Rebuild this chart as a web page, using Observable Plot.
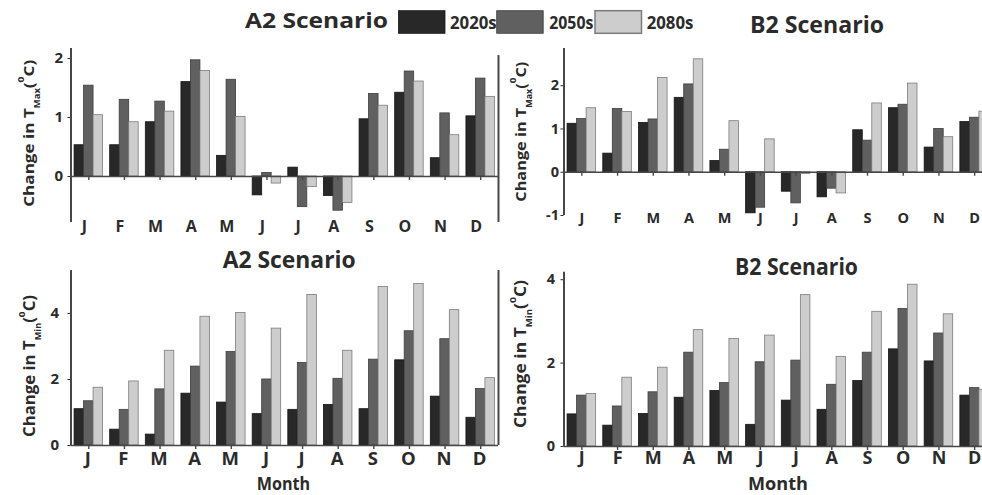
<!DOCTYPE html>
<html><head><meta charset="utf-8">
<script src="https://cdn.jsdelivr.net/npm/d3@7"></script>
<script src="https://cdn.jsdelivr.net/npm/@observablehq/plot@0.6"></script>
<style>
html,body{margin:0;padding:0;background:#fff;overflow:hidden;}
#root{position:relative;width:982px;height:495px;overflow:hidden;font-family:"Open Sans",sans-serif;}
#root > div{position:absolute;}
</style></head><body><div id="root"></div>
<script>
const months = ["Jan","Feb","Mar","Apr","May","Jun","Jul","Aug","Sep","Oct","Nov","Dec"];
const monthLabels = ["J","F","M","A","M","J","J","A","S","O","N","D"];
const periods = ["2020s","2050s","2080s"];

const a2Tmax2020 = [0.53,0.53,0.92,1.60,0.35,-0.32,0.15,-0.33,0.97,1.42,0.31,1.02];
const a2Tmax2050 = [1.54,1.30,1.27,1.97,1.64,0.06,-0.52,-0.58,1.40,1.78,1.07,1.66];
const a2Tmax2080 = [1.04,0.92,1.10,1.79,1.01,-0.12,-0.18,-0.45,1.20,1.61,0.70,1.35];

const b2Tmax2020 = [1.12,0.43,1.14,1.72,0.26,-0.95,-0.45,-0.58,0.97,1.48,0.57,1.16];
const b2Tmax2050 = [1.23,1.46,1.22,2.03,0.52,-0.82,-0.72,-0.38,0.73,1.56,1.00,1.26];
const b2Tmax2080 = [1.48,1.39,2.18,2.61,1.18,0.76,-0.04,-0.49,1.59,2.05,0.81,1.40];

const a2Tmin2020 = [1.10,0.48,0.33,1.57,1.30,0.95,1.08,1.23,1.10,2.58,1.48,0.84];
const a2Tmin2050 = [1.34,1.08,1.70,2.39,2.83,2.00,2.50,2.02,2.60,3.46,3.22,1.71];
const a2Tmin2080 = [1.75,1.94,2.87,3.90,4.01,3.54,4.56,2.87,4.80,4.89,4.10,2.04];

const b2Tmin2020 = [0.77,0.50,0.78,1.17,1.33,0.52,1.10,0.88,1.57,2.33,2.04,1.22];
const b2Tmin2050 = [1.22,0.96,1.30,2.25,1.52,2.02,2.06,1.48,2.25,3.30,2.71,1.40];
const b2Tmin2080 = [1.26,1.65,1.89,2.79,2.58,2.66,3.63,2.15,3.23,3.88,3.17,1.36];

const tmaxA2Ticks = [0, 1, 2];
const tmaxB2Ticks = [-1, 0, 1, 2];
const tminA2Ticks = [0, 2, 4];
const tminB2Ticks = [0, 2, 4];

const fills = ["#282828", "#606060", "#cdcdcd"];
const strokes = ["#151515", "#3e3e3e", "#7c7c7c"];
const ink = "#2b2b2b";
const axisInk = "#474747";
const FONT = "'Open Sans', sans-serif";

const root = document.getElementById("root");

function panel(cfg) {
  const {left, top, width, height, mL, mR, mT, mB, yDomain, yTicks, series,
         labelDy, labelDx, labelSize, tickSize, tickPad, rightLineTop, showRight} = cfg;
  const data = [];
  periods.forEach((p, k) => series[k].forEach((v, i) => data.push({month: months[i], label: monthLabels[i], period: p, value: v})));
  const innerW = width - mL - mR;
  const step = innerW / 12;
  const barW = step * 0.8 / 3;
  const innerH = height - mT - mB;
  const ppu = innerH / (yDomain[1] - yDomain[0]);
  const marks = [];
  periods.forEach((p, k) => marks.push(Plot.barY(data.filter(d => d.period === p), {
    x: "month", y: "value", fill: fills[k], stroke: strokes[k], strokeWidth: 0.8,
    insetLeft: k * barW, insetRight: (2 - k) * barW
  })));
  marks.push(Plot.ruleY([0], {stroke: axisInk, strokeWidth: 1.6}));
  marks.push(Plot.ruleX(months, {x: d => d, y1: 0, y2: -4 / ppu, stroke: axisInk, strokeWidth: 1.4}));
  marks.push(Plot.ruleX([months[0]], {x: d => d, y1: yDomain[0], y2: yDomain[1], dx: -step / 2, stroke: axisInk, strokeWidth: 2}));
  if (showRight) marks.push(Plot.ruleX([months[11]], {x: d => d, y1: yDomain[0], y2: rightLineTop, dx: step / 2, stroke: axisInk, strokeWidth: 2}));
  marks.push(Plot.text(data.filter(d => d.period === periods[0]), {
    x: "month", text: "label", frameAnchor: "bottom", lineAnchor: "middle", dy: labelDy, dx: labelDx,
    fontSize: labelSize, fontWeight: "bold", fill: ink
  }));
  const chart = Plot.plot({
    width, height, marginLeft: mL, marginRight: mR, marginTop: mT, marginBottom: mB,
    x: {type: "band", domain: months, paddingInner: 0.2, paddingOuter: 0.1, round: false, axis: null},
    y: {domain: yDomain, ticks: yTicks, tickSize: 3, tickPadding: tickPad, label: null, tickFormat: d => String(d)},
    style: {fontFamily: FONT, fontSize: tickSize + "px", fontWeight: "bold", color: ink, background: "transparent", overflow: "visible", maxWidth: "none"},
    marks
  });
  const div = document.createElement("div");
  div.style.left = left + "px"; div.style.top = top + "px";
  div.style.width = width + "px"; div.style.height = height + "px";
  div.appendChild(chart);
  root.appendChild(div);
}

panel({left: 0, top: 0, width: 500, height: 245, mL: 70.5, mR: 2, mT: 48, mB: 23,
  yDomain: [-0.78, 2.17], yTicks: tmaxA2Ticks, series: [a2Tmax2020, a2Tmax2050, a2Tmax2080],
  labelDy: 4, labelDx: -4.5, labelSize: 16, tickSize: 15, tickPad: 5, showRight: true, rightLineTop: 2.05});
panel({left: 500, top: 0, width: 500, height: 245, mL: 63.5, mR: 8, mT: 48, mB: 30,
  yDomain: [-1.0, 2.86], yTicks: tmaxB2Ticks, series: [b2Tmax2020, b2Tmax2050, b2Tmax2080],
  labelDy: 3, labelDx: 0, labelSize: 14.5, tickSize: 14.5, tickPad: 2, showRight: false});
panel({left: 0, top: 245, width: 500, height: 250, mL: 70.5, mR: 2, mT: 25, mB: 50,
  yDomain: [0, 5.3], yTicks: tminA2Ticks, series: [a2Tmin2020, a2Tmin2050, a2Tmin2080],
  labelDy: 14, labelDx: -1, labelSize: 18.5, tickSize: 15, tickPad: 9, showRight: true, rightLineTop: 5.3});
panel({left: 500, top: 245, width: 500, height: 250, mL: 63.5, mR: 8, mT: 26.7, mB: 49,
  yDomain: [0, 4.18], yTicks: tminB2Ticks, series: [b2Tmin2020, b2Tmin2050, b2Tmin2080],
  labelDy: 11.5, labelDx: 0, labelSize: 18, tickSize: 14.5, tickPad: 6, showRight: false});

// Overlay text: titles, legend, axis labels
const svg = d3.select(root).append("svg")
  .attr("width", 982).attr("height", 495)
  .style("position", "absolute").style("left", 0).style("top", 0)
  .style("pointer-events", "none")
  .attr("font-family", FONT).attr("font-weight", "bold").attr("fill", ink);

const titles = [
  {text: "A2 Scenario", x: 245, y: 28.3, size: 21, len: 143},
  {text: "B2 Scenario", x: 750, y: 33.3, size: 23, len: 134},
  {text: "A2 Scenario", x: 222.7, y: 268.3, size: 23, len: 133},
  {text: "B2 Scenario", x: 735, y: 275, size: 23, len: 123}
];
titles.forEach(t => svg.append("text").attr("x", t.x).attr("y", t.y).attr("font-size", t.size)
  .attr("textLength", t.len).attr("lengthAdjust", "spacingAndGlyphs").text(t.text));

const legendBoxes = [398.5, 496.7, 595];
const legendText = [[450, 46.7], [549.3, 44], [646.7, 46.7]];
periods.forEach((p, k) => {
  svg.append("rect").attr("x", legendBoxes[k]).attr("y", 10.7).attr("width", 46.5).attr("height", 22.6)
    .attr("fill", fills[k]).attr("stroke", k === 2 ? "#7c7c7c" : strokes[k]).attr("stroke-width", k === 2 ? 1.5 : 0.8);
  svg.append("text").attr("x", legendText[k][0]).attr("y", 29.3).attr("font-size", 18)
    .attr("textLength", legendText[k][1]).attr("lengthAdjust", "spacingAndGlyphs").text(p);
});

const yLabels = [
  {x: 34, y: 133.3, len: 147, sub: "Max", size: 15},
  {x: 526, y: 131.7, len: 140, sub: "Max", size: 15},
  {x: 35, y: 366, len: 142, sub: "Min", size: 15.5},
  {x: 526, y: 354, len: 148, sub: "Min", size: 15.5}
];
yLabels.forEach(l => {
  const t = svg.append("text").attr("transform", `translate(${l.x},${l.y}) rotate(-90)`)
    .attr("x", -l.len / 2).attr("font-size", l.size)
    .attr("textLength", l.len).attr("lengthAdjust", "spacingAndGlyphs");
  t.append("tspan").text("Change in T");
  t.append("tspan").attr("font-size", l.size * 0.55).attr("dy", 6).text(l.sub);
  t.append("tspan").attr("dy", -6).text("(");
  t.append("tspan").attr("font-size", l.size * 0.6).attr("dy", -10).text("0");
  t.append("tspan").attr("dy", 10).text("C)");
});

svg.append("text").attr("x", 256.7).attr("y", 490).attr("font-size", 17)
  .attr("textLength", 53.5).attr("lengthAdjust", "spacingAndGlyphs").text("Month");
svg.append("text").attr("x", 748).attr("y", 490).attr("font-size", 18)
  .attr("textLength", 60).attr("lengthAdjust", "spacingAndGlyphs").text("Month");
</script></body></html>
